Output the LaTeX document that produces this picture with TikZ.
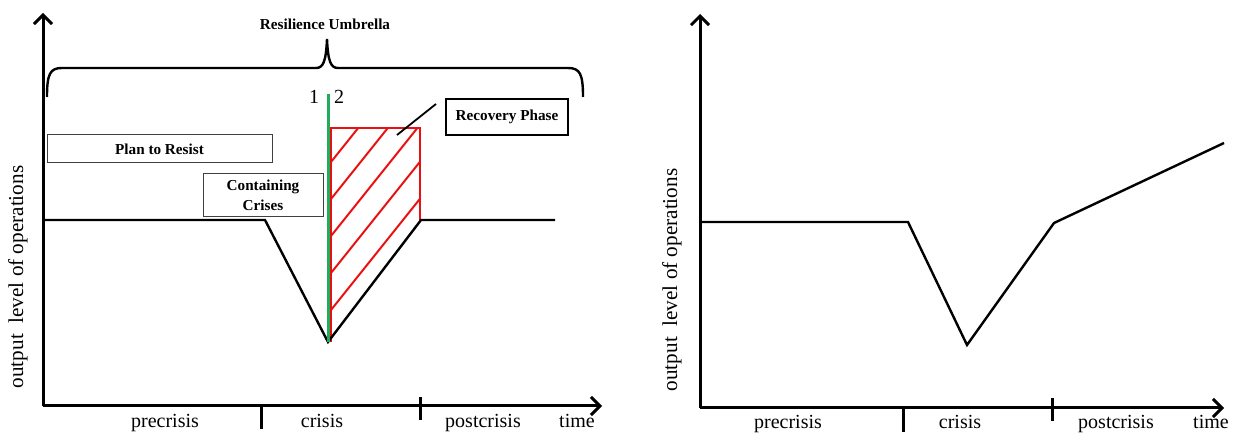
\documentclass[tikz,border=0pt]{standalone}
\usepackage{fontspec}
\setmainfont{Liberation Serif}
\usetikzlibrary{arrows.meta}
\definecolor{phasegreen}{RGB}{32,172,90}
\definecolor{hatchred}{RGB}{232,16,16}
\begin{document}
\begin{tikzpicture}[x=0.5pt,y=-0.5pt,
  axis/.style={line width=1.5pt,-{Straight Barb[length=4.5pt,width=9pt,line width=1.5pt]}},
  tick/.style={line width=1.5pt},
  curve/.style={line width=1.2pt,line join=miter},
  hatch/.style={hatchred,line width=1pt},
  axislabel/.style={font=\fontsize{10}{12}\selectfont,inner sep=0pt},
  ylabel/.style={font=\fontsize{10.6}{12}\selectfont,rotate=90,inner sep=0pt},
  boldlabel/.style={font=\fontsize{7.6}{10}\selectfont\bfseries,align=center,inner sep=0pt},
  thinbox/.style={boldlabel,draw=black!75,line width=0.5pt},
  thickbox/.style={boldlabel,draw=black,line width=1pt}
]
\useasboundingbox (0,0) rectangle (1236,437);

% ---------------- left panel ----------------
\coordinate (oA) at (43,406);
\coordinate (yA) at (43,13);
\coordinate (xA) at (602,406);
\draw[axis] (oA) -- (yA);
\draw[axis] (oA) -- (xA);
\coordinate (tA1t) at (261,406); \coordinate (tA1b) at (261,429);
\coordinate (tA2t) at (420,397); \coordinate (tA2b) at (420,420);
\draw[tick] (tA1t) -- (tA1b);
\draw[tick] (tA2t) -- (tA2b);

\node[axislabel] (preA)  at (165,423) {precrisis};
\node[axislabel] (criA)  at (322,421) {crisis};
\node[axislabel] (postA) at (483,423) {postcrisis};
\node[axislabel] (timeA) at (577,421) {time};
\node[ylabel] (yLabA) at (18,277) {output\ \ level of operations};

% hatched recovery area
\begin{scope}
  \clip (331,128) -- (420,128) -- (420,220) -- (329,342) -- cycle;
  \foreach \yy in {162,199,236,273,310}
    \draw[hatch] (331,\yy) -- ++(130,-162.5);
\end{scope}
\coordinate (rA1) at (331,342);
\coordinate (rA2) at (331,128);
\coordinate (rA3) at (420,128);
\coordinate (rA4) at (420,220);
\draw[hatch,line join=miter] (rA1) -- (rA2) -- (rA3) -- (rA4);

% output level
\coordinate (cA1) at (43,220);
\coordinate (cA2) at (265,220);
\coordinate (cA3) at (328,342);
\coordinate (cA4) at (421,220);
\coordinate (cA5) at (555,220);
\draw[curve] (cA1) -- (cA2) -- (cA3) -- (cA4) -- (cA5);

% divider between phases 1 and 2
\coordinate (gA1) at (328,94);
\coordinate (gA2) at (328,342);
\draw[phasegreen,line width=1.5pt] (gA1) -- (gA2);
\node[axislabel] (one) at (314,97) {1};
\node[axislabel] (two) at (339,97) {2};

% boxes
\node[thinbox,minimum width=112.5pt,minimum height=14pt] (plan) at (159.5,149) {Plan to Resist};
\node[thinbox,minimum width=60pt,minimum height=21.5pt] (contain) at (263,195.5) {Containing\\Crises};
\node[thickbox,minimum width=61pt,minimum height=18pt] (recov) at (507,117) {Recovery Phase};
\coordinate (lead1) at (397,135);
\coordinate (lead2) at (436,104);
\draw[line width=0.9pt] (lead1) -- (lead2);

% resilience umbrella brace
\coordinate (bL) at (47,97);
\coordinate (bR) at (583,97);
\coordinate (bTip) at (327,39);
\draw[line width=1.2pt]
  (bL) .. controls (47,74) and (50,68) .. (62,68) -- (316,68)
  .. controls (323,68) and (326,62) .. (bTip)
  .. controls (328,62) and (331,68) .. (338,68) -- (568,68)
  .. controls (580,68) and (583,74) .. (bR);
\node[boldlabel] (umb) at (325,24) {Resilience Umbrella};

% ---------------- right panel ----------------
\coordinate (oB) at (700,408);
\coordinate (yB) at (700,14);
\coordinate (xB) at (1224,408);
\draw[axis] (oB) -- (yB);
\draw[axis] (oB) -- (xB);
\coordinate (tB1t) at (903,408); \coordinate (tB1b) at (903,432);
\coordinate (tB2t) at (1052,398); \coordinate (tB2b) at (1052,421);
\draw[tick] (tB1t) -- (tB1b);
\draw[tick] (tB2t) -- (tB2b);

\node[axislabel] (preB)  at (788,424) {precrisis};
\node[axislabel] (criB)  at (960,422) {crisis};
\node[axislabel] (postB) at (1116,424) {postcrisis};
\node[axislabel] (timeB) at (1211,422) {time};
\node[ylabel] (yLabB) at (672,280) {output\ \ level of operations};

\coordinate (cB1) at (700,222);
\coordinate (cB2) at (908,222);
\coordinate (cB3) at (967,345);
\coordinate (cB4) at (1054,223);
\coordinate (cB5) at (1224,143);
\draw[curve] (cB1) -- (cB2) -- (cB3) -- (cB4) -- (cB5);
\end{tikzpicture}
\end{document}
